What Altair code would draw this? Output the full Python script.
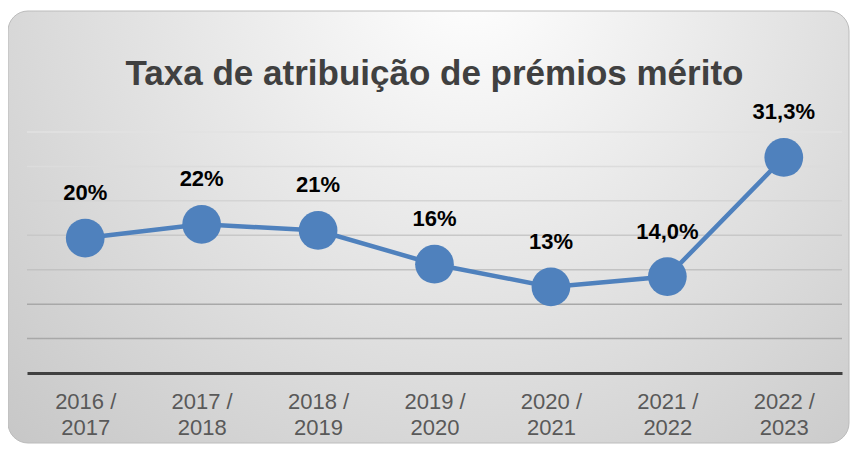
import altair as alt
import pandas as pd

categories = ["2016 / 2017", "2017 / 2018", "2018 / 2019", "2019 / 2020",
              "2020 / 2021", "2021 / 2022", "2022 / 2023"]
values = [19.6, 21.6, 20.7, 15.8, 12.5, 14.0, 31.3]
labels = ["20%", "22%", "21%", "16%", "13%", "14,0%", "31,3%"]
grid_values = [5, 10, 15, 20, 25, 30, 35]
grid_colors = ["#a8a8a8", "#a8a8a8", "#c2c2c2", "#c8c8c8", "#d4d4d4", "#dcdcdc", "#e2e2e2"]
title_text = ["Taxa de atribuição de prémios mérito"]

df = pd.DataFrame({"cat": categories, "val": values, "lab": labels})
grid_df = pd.DataFrame({"g": grid_values, "c": grid_colors})
bg_df = pd.DataFrame({"k": [0]})
title_df = pd.DataFrame({"t": title_text})

BLUE = "#4F81BD"
W, H = 815, 241

gradient = {
    "gradient": "radial",
    "x1": 0.55, "y1": 0.2, "x2": 0.55, "y2": 0.2,
    "r1": 0, "r2": 0.85,
    "stops": [
        {"offset": 0, "color": "#ffffff"},
        {"offset": 1, "color": "#c2c2c2"},
    ],
}

y_scale = alt.Scale(domain=[0, 35], nice=False, zero=True)

bg = alt.Chart(bg_df).mark_rect(
    cornerRadius=20, fill=gradient, stroke="#bcbcbc", strokeWidth=1
).encode(
    x=alt.value(-19), x2=alt.value(822),
    y=alt.value(-121), y2=alt.value(311),
)

grid = alt.Chart(grid_df).mark_rule(strokeWidth=1.5).encode(
    y=alt.Y("g:Q", scale=y_scale, axis=None),
    x=alt.value(0), x2=alt.value(W),
    color=alt.Color("c:N", scale=None),
)

x_enc = alt.X(
    "cat:O", sort=None, title=None,
    axis=alt.Axis(
        labelAngle=0, ticks=False, domain=True, domainColor="#404040",
        domainWidth=3, labelColor="#595959", labelFontSize=22,
        labelFont="Liberation Sans", labelPadding=18, labelLineHeight=26,
        labelExpr="[split(datum.label, ' ')[0] + ' /', split(datum.label, ' ')[2]]",
        grid=False, zindex=1,
    ),
)
y_enc = alt.Y("val:Q", title=None, scale=y_scale, axis=None)

line = alt.Chart(df).mark_line(color=BLUE, strokeWidth=4.5).encode(x=x_enc, y=y_enc)
pts = alt.Chart(df).mark_circle(color=BLUE, opacity=1, size=1500).encode(x=x_enc, y=y_enc)
txt = alt.Chart(df).mark_text(
    dy=-45, fontSize=22, fontWeight="bold", font="Liberation Sans", color="#000000"
).encode(x=x_enc, y=y_enc, text="lab:N")

title = alt.Chart(title_df).mark_text(
    fontSize=35, fontWeight="bold", font="Liberation Sans", color="#404040",
    align="center", baseline="alphabetic",
).encode(x=alt.value(W / 2), y=alt.value(-47), text="t:N")

chart = alt.layer(bg, grid, line, pts, txt, title).properties(
    width=W, height=H,
    padding={"left": 19, "top": 124, "right": 9, "bottom": 72},
    autosize=alt.AutoSizeParams(type="none"),
).configure_view(stroke=None).configure(background="#ffffff")

chart.save("out.html", embed_options={"renderer": "svg", "actions": False})
